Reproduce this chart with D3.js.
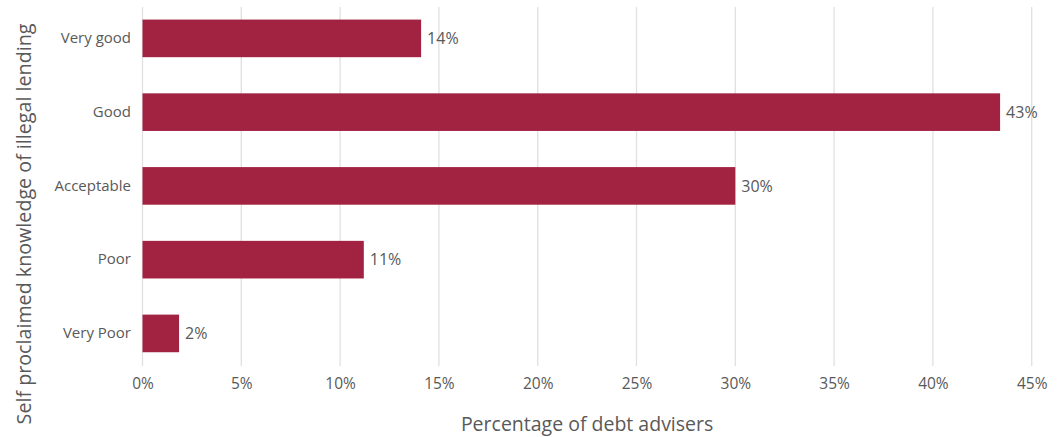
<!DOCTYPE html>
<html>
<head>
<meta charset="utf-8">
<script src="https://cdn.jsdelivr.net/npm/d3@7"></script>
<style>
  html, body { margin: 0; padding: 0; background: #fff; }
  svg { display: block; font-family: "Open Sans", "Noto Sans", sans-serif; }
</style>
</head>
<body>
<svg id="chart" width="1063" height="437"></svg>
<script>
// Survey: self-rated knowledge of illegal lending among debt advisers
const categories = ["Very good", "Good", "Acceptable", "Poor", "Very Poor"];
const shares = [14.1, 43.4, 30.0, 11.2, 1.85];
const xTicks = [0, 5, 10, 15, 20, 25, 30, 35, 40, 45];
const xTitle = "Percentage of debt advisers";
const yTitle = "Self proclaimed knowledge of illegal lending";

const svg = d3.select("#chart");
const plot = { left: 142.5, right: 1031.7, top: 7, bottom: 366 };

const x = d3.scaleLinear().domain([0, 45]).range([plot.left, plot.right]);
const y = d3.scaleBand().domain(categories).range([1.5, 370.3])
  .paddingInner(0.49).paddingOuter(0.245);

const textColor = "#595959";

// vertical gridlines
svg.append("g").selectAll("line").data(xTicks).join("line")
  .attr("x1", d => x(d)).attr("x2", d => x(d))
  .attr("y1", plot.top).attr("y2", plot.bottom)
  .attr("stroke", "#e0e0e0").attr("stroke-width", 1.3);

// x axis tick labels
const xAxis = d3.axisBottom(x).tickValues(xTicks).tickFormat(d => d + "%").tickSize(0).tickPadding(0);
const gx = svg.append("g").attr("transform", `translate(0,${plot.bottom})`).call(xAxis);
gx.select(".domain").remove();
gx.attr("font-family", null).attr("font-size", null);
gx.selectAll("text").attr("dy", null).attr("y", 23)
  .attr("fill", textColor).style("font-size", "15.5px");

// y axis category labels
const yAxis = d3.axisLeft(y).tickSize(0).tickPadding(0);
const gy = svg.append("g").attr("transform", "translate(131,0)").call(yAxis);
gy.select(".domain").remove();
gy.attr("font-family", null).attr("font-size", null);
gy.selectAll("text").attr("fill", textColor).style("font-size", "15px");

// bars
svg.append("g").selectAll("rect").data(categories).join("rect")
  .attr("x", x(0))
  .attr("y", d => y(d))
  .attr("width", (d, i) => x(shares[i]) - x(0))
  .attr("height", y.bandwidth())
  .attr("fill", "#a22341");

// value labels
svg.append("g").selectAll("text").data(categories).join("text")
  .attr("x", (d, i) => x(shares[i]) + 6)
  .attr("y", d => y(d) + y.bandwidth() / 2)
  .attr("dy", "0.36em")
  .attr("fill", textColor)
  .style("font-size", "16px")
  .text((d, i) => d3.format(".0f")(shares[i]) + "%");

// axis titles
svg.append("text")
  .attr("x", (plot.left + plot.right) / 2).attr("y", 431)
  .attr("text-anchor", "middle")
  .attr("fill", textColor).style("font-size", "19.5px")
  .text(xTitle);

svg.append("text")
  .attr("transform", "translate(31,224) rotate(-90)")
  .attr("text-anchor", "middle")
  .attr("fill", textColor).style("font-size", "19.7px")
  .text(yTitle);
</script>
</body>
</html>
